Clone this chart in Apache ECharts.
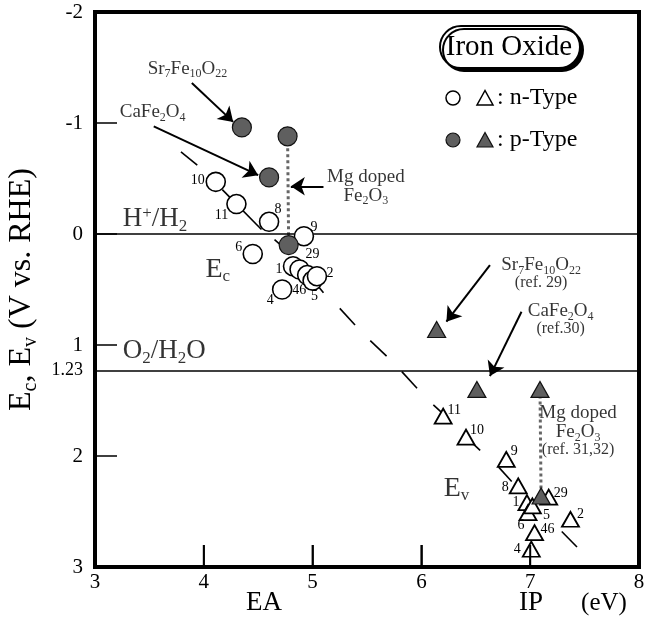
<!DOCTYPE html>
<html><head><meta charset="utf-8">
<script src="https://cdn.jsdelivr.net/npm/echarts@6/dist/echarts.min.js"></script>
<style>html,body{margin:0;padding:0;background:#fff}#c{width:658px;height:619px}</style>
</head><body><div id="c"></div>
<script>
const FONT = '"Liberation Serif","Times New Roman",serif';

// ---------------- data ----------------
const yTickLabels = [-2, -1, 0, 1, 1.23, 2, 3];
const yTickMarks = [-1, 0, 1, 2];
const xTickMarks = [4, 5, 6, 7];
const redoxLevels = [0, 1.23];           // H+/H2 , O2/H2O

// n-type, conduction band edge (EA, Ec)
const ecNums = ['10','11','8','9','6','1','29','46','5','2','4'];
const ecEA   = [4.11, 4.30, 4.60, 4.92, 4.45, 4.82, 4.88, 4.95, 5.00, 5.04, 4.72];
const ecVal  = [-0.47,-0.27,-0.11, 0.02, 0.18, 0.29, 0.32, 0.37, 0.42, 0.38, 0.50];

// n-type, valence band edge (IP, Ev)
const evNums = ['11','10','9','8','1','6','5','29','2','46','4'];
const evIP   = [6.20, 6.41, 6.78, 6.89, 6.97, 6.98, 7.02, 7.17, 7.37, 7.04, 7.01];
const evVal  = [1.64, 1.83, 2.03, 2.27, 2.42, 2.51, 2.45, 2.37, 2.57, 2.69, 2.84];

// p-type (Sr7Fe10O22, CaFe2O4, Mg doped Fe2O3 top, Mg doped Fe2O3 bottom)
const pNames = ['Sr7Fe10O22', 'CaFe2O4', 'Mg doped Fe2O3 a', 'Mg doped Fe2O3 b'];
const pEA  = [4.35, 4.60, 4.77, 4.78];
const pEc  = [-0.96, -0.51, -0.88, 0.10];
const pIP  = [6.14, 6.51, 7.09, 7.10];
const pEv  = [0.86, 1.40, 1.40, 2.36];

// dashed trend line segments (as drawn)
const trendX1 = [3.79, 4.17, 4.65, 5.00, 5.25, 5.53, 5.82, 6.11, 6.41, 6.71, 7.29];
const trendY1 = [-0.74,-0.40, 0.05, 0.41, 0.67, 0.96, 1.24, 1.54, 1.83, 2.10, 2.68];
const trendX2 = [3.94, 4.53, 4.79, 5.10, 5.39, 5.68, 5.96, 6.20, 6.54, 6.83, 7.43];
const trendY2 = [-0.62,-0.04, 0.17, 0.53, 0.82, 1.10, 1.39, 1.62, 1.95, 2.23, 2.82];

// ---------------- layout ----------------
const TICK_PX = 22;
const ecLabelOffset = [[-18,-2],[-15,11],[9,-12],[10,-9],[-14,-7],[-14,3],[13,-15],[-8,15],[2,16],[13,-3],[-12,11]];
const evLabelOffset = [[11,-6],[11,-7],[8,-8],[-13,1],[-11,0],[-7,13],[14,9],[12,-4],[10,-5],[13,-3],[-14,0]];

const arrows = [
  [[3.89,-1.36],[4.27,-1.01]],
  [[3.54,-0.97],[4.50,-0.53]],
  [[5.10,-0.43],[4.80,-0.43]],
  [[6.63, 0.28],[6.23, 0.79]],
  [[6.92, 0.70],[6.63, 1.28]]
];

const SIZES = [16, 19, 22, 27, 28, 32];
function richFor() {
  const r = {};
  SIZES.forEach(F => {
    const s = Math.round(F * 0.62);
    r['a' + F] = {fontFamily: FONT, fontSize: F, lineHeight: F, color: '#000', verticalAlign: 'top'};
    r['a' + F + 'b'] = {fontFamily: FONT, fontSize: s, lineHeight: s, color: '#000', verticalAlign: 'top', padding: [Math.round(F * 0.47), 0, 0, 0]};
    r['a' + F + 'p'] = {fontFamily: FONT, fontSize: s, lineHeight: s, color: '#000', verticalAlign: 'top', padding: [0, 0, 0, 0]};
  });
  return r;
}
const RICH = richFor();
// "_{..}" subscript, "^{..}" superscript, "@16" switch size for following text
function chem(s, F) {
  let out = '', buf = '', i = 0, key = 'a' + F;
  const flush = () => { if (buf) { out += '{' + key + '|' + buf + '}'; buf = ''; } };
  while (i < s.length) {
    const c = s[i];
    if ((c === '_' || c === '^') && s[i + 1] === '{') {
      flush();
      const j = s.indexOf('}', i);
      out += '{' + key + (c === '_' ? 'b' : 'p') + '|' + s.slice(i + 2, j) + '}';
      i = j + 1;
    } else if (c === '@') {
      flush();
      const m = s.slice(i + 1).match(/^\d+/)[0];
      key = 'a' + m; i += 1 + m.length;
    } else if (c === '\n') {
      flush(); out += '\n'; i++;
    } else { buf += c; i++; }
  }
  flush();
  return out;
}

const annotations = [
  {pos: [3.85, -1.49], text: 'Sr_{7}Fe_{10}O_{22}', F: 19, align: 'c'},
  {pos: [3.53, -1.10], text: 'CaFe_{2}O_{4}', F: 19, align: 'c'},
  {pos: [5.49, -0.43], text: 'Mg doped\nFe_{2}O_{3}', F: 19, align: 'c'},
  {pos: [3.25, -0.14], text: 'H^{+}/H_{2}', F: 27, align: 'l'},
  {pos: [3.25, 1.05], text: 'O_{2}/H_{2}O', F: 27, align: 'l'},
  {pos: [4.01, 0.32], text: 'E_{c}', F: 28, align: 'l'},
  {pos: [6.20, 2.29], text: 'E_{v}', F: 28, align: 'l'},
  {pos: [7.10, 0.35], text: 'Sr_{7}Fe_{10}O_{22}\n@16(ref. 29)', F: 19, align: 'c'},
  {pos: [7.28, 0.77], text: 'CaFe_{2}O_{4}\n@16(ref.30)', F: 19, align: 'c'},
  {pos: [7.44, 1.77], text: 'Mg doped\nFe_{2}O_{3}\n@16(ref. 31,32)', F: 19, align: 'c'}
];

const numLabel = {show: true, position: 'inside', formatter: '{b}', fontFamily: FONT, fontSize: 14, color: '#000'};
const PFILL = '#5f5f5f';

const baseGraphic = [
  {type: 'text', x: 264, y: 603, style: {text: 'EA', font: '27px ' + FONT, fill: '#000', align: 'center', verticalAlign: 'middle', textAlign: 'center', textVerticalAlign: 'middle'}},
  {type: 'text', x: 531, y: 603, style: {text: 'IP', font: '27px ' + FONT, fill: '#000', align: 'center', verticalAlign: 'middle', textAlign: 'center', textVerticalAlign: 'middle'}},
  {type: 'text', x: 604, y: 603, style: {text: '(eV)', font: '25px ' + FONT, fill: '#000', align: 'center', verticalAlign: 'middle', textAlign: 'center', textVerticalAlign: 'middle'}},
  {type: 'rect', shape: {x: 440, y: 26, width: 140, height: 42, r: 21}, style: {fill: '#fff', stroke: '#000', lineWidth: 2, shadowColor: '#000', shadowOffsetX: 3, shadowOffsetY: 3, shadowBlur: 0}, z: 100},
  {type: 'text', x: 509, y: 47, z: 101, style: {text: 'Iron Oxide', font: '29px ' + FONT, fill: '#000', align: 'center', verticalAlign: 'middle', textAlign: 'center', textVerticalAlign: 'middle'}},
  {type: 'circle', shape: {cx: 453, cy: 98, r: 7}, style: {fill: '#fff', stroke: '#000', lineWidth: 1.5}, z: 100},
  {type: 'polygon', shape: {points: [[485, 90.5], [477, 105], [493, 105]]}, style: {fill: '#fff', stroke: '#000', lineWidth: 1.5}, z: 100},
  {type: 'text', x: 497, y: 98, z: 101, style: {text: ': n-Type', font: '24px ' + FONT, fill: '#000', align: 'left', verticalAlign: 'middle', textAlign: 'left', textVerticalAlign: 'middle'}},
  {type: 'circle', shape: {cx: 453, cy: 140, r: 7}, style: {fill: PFILL, stroke: '#111', lineWidth: 1.2}, z: 100},
  {type: 'polygon', shape: {points: [[485, 132.5], [477, 147], [493, 147]]}, style: {fill: PFILL, stroke: '#111', lineWidth: 1.2}, z: 100},
  {type: 'text', x: 497, y: 140, z: 101, style: {text: ': p-Type', font: '24px ' + FONT, fill: '#000', align: 'left', verticalAlign: 'middle', textAlign: 'left', textVerticalAlign: 'middle'}}
];

const option = {
  animation: false,
  backgroundColor: '#fff',
  grid: {left: 95, right: 19, top: 12, bottom: 52, show: true, borderWidth: 4, borderColor: '#000', containLabel: false, outerBoundsMode: 'none'},
  xAxis: {
    type: 'value', min: 3, max: 8, interval: 1, position: 'bottom',
    axisLine: {show: true, onZero: false, lineStyle: {color: '#000', width: 4}},
    axisTick: {show: true, inside: true, length: TICK_PX, lineStyle: {color: '#000', width: 1.5}},
    axisLabel: {fontFamily: FONT, fontSize: 21, color: '#000', margin: 5},
    splitLine: {show: false}
  },
  yAxis: {
    type: 'value', min: -2, max: 3, interval: 1, inverse: true, position: 'left',
    axisLine: {show: true, onZero: false, lineStyle: {color: '#000', width: 4}},
    axisTick: {show: true, inside: true, length: TICK_PX, customValues: yTickMarks, lineStyle: {color: '#000', width: 1.5}},
    axisLabel: {
      customValues: yTickLabels, fontFamily: FONT, fontSize: 21, color: '#000', margin: 12,
      formatter: v => (Math.abs(v - 1.23) < 1e-6 ? '{s|1.23}' : String(v)),
      rich: {s: {fontFamily: FONT, fontSize: 18, color: '#000'}}
    },
    splitLine: {show: false},
    name: chem('E_{c}, E_{v} (V vs. RHE)', 32),
    nameLocation: 'middle', nameGap: 53, nameRotate: 90,
    nameTextStyle: {rich: RICH}
  },
  graphic: baseGraphic,
  series: [
    {
      name: 'levels', type: 'line', data: [], silent: true, z: 1,
      markLine: {
        silent: true, symbol: 'none', label: {show: false},
        lineStyle: {color: '#000', width: 1.5, type: 'solid'},
        data: redoxLevels.map(v => ({yAxis: v}))
      }
    },
    {
      name: 'trend', type: 'lines', coordinateSystem: 'cartesian2d', silent: true, z: 2,
      lineStyle: {color: '#000', width: 1.6, opacity: 1},
      data: trendX1.map((x, i) => ({coords: [[x, trendY1[i]], [trendX2[i], trendY2[i]]]}))
    },
    {
      name: 'MgEc', type: 'line', symbol: 'none', silent: true, z: 3,
      lineStyle: {color: '#666', width: 3, type: 'dotted'},
      data: [[pEA[2], pEc[2]], [pEA[3], pEc[3]]]
    },
    {
      name: 'MgEv', type: 'line', symbol: 'none', silent: true, z: 3,
      lineStyle: {color: '#666', width: 3, type: 'dotted'},
      data: [[pIP[2], pEv[2]], [pIP[3], pEv[3]]]
    },
    {
      name: 'arrows', type: 'lines', coordinateSystem: 'cartesian2d', silent: true, z: 4,
      symbol: ['none', 'arrow'], symbolSize: 14,
      lineStyle: {color: '#000', width: 2, opacity: 1},
      data: arrows.map(a => ({coords: a}))
    },
    {
      name: 'n-Ec', type: 'scatter', symbol: 'circle', symbolSize: 19, z: 5,
      itemStyle: {color: '#fff', borderColor: '#000', borderWidth: 1.6, opacity: 1},
      label: numLabel,
      data: ecEA.map((x, i) => ({name: ecNums[i], value: [x, ecVal[i]], label: {offset: ecLabelOffset[i]}}))
    },
    {
      name: 'n-Ev', type: 'scatter', symbol: 'triangle', symbolSize: [17, 15], z: 5,
      itemStyle: {color: '#fff', borderColor: '#000', borderWidth: 1.8, opacity: 1},
      label: numLabel,
      data: evIP.map((x, i) => ({name: evNums[i], value: [x, evVal[i]], label: {offset: evLabelOffset[i]}}))
    },
    {
      name: 'p-Ec', type: 'scatter', symbol: 'circle', symbolSize: 19, z: 6,
      itemStyle: {color: PFILL, borderColor: '#111', borderWidth: 1.2, opacity: 1},
      data: pEA.map((x, i) => ({name: pNames[i], value: [x, pEc[i]]}))
    },
    {
      name: 'p-Ev', type: 'scatter', symbol: 'triangle', symbolSize: [18, 16], z: 6,
      itemStyle: {color: PFILL, borderColor: '#111', borderWidth: 1.2, opacity: 1},
      data: pIP.map((x, i) => ({name: pNames[i], value: [x, pEv[i]]}))
    },
    {
      name: 'annotations', type: 'scatter', symbolSize: 1, silent: true, z: 7,
      itemStyle: {color: 'rgba(0,0,0,0)'},
      data: annotations.map(a => ({
        value: a.pos,
        label: {
          show: true, position: a.align === 'l' ? 'right' : 'inside', distance: 0,
          formatter: chem(a.text, a.F), rich: RICH
        }
      }))
    }
  ]
};

const chart = echarts.init(document.getElementById('c'), null, {renderer: 'canvas'});
chart.setOption(option);

// inward x ticks, placed through the chart's own scale
const tickGraphic = xTickMarks.map(v => {
  const p = chart.convertToPixel({gridIndex: 0}, [v, 3]);
  return {type: 'line', z: 120, shape: {x1: p[0], y1: p[1], x2: p[0], y2: p[1] - TICK_PX}, style: {stroke: '#000', lineWidth: 2}};
});
chart.setOption({graphic: baseGraphic.concat(tickGraphic)});
</script>
</body></html>
